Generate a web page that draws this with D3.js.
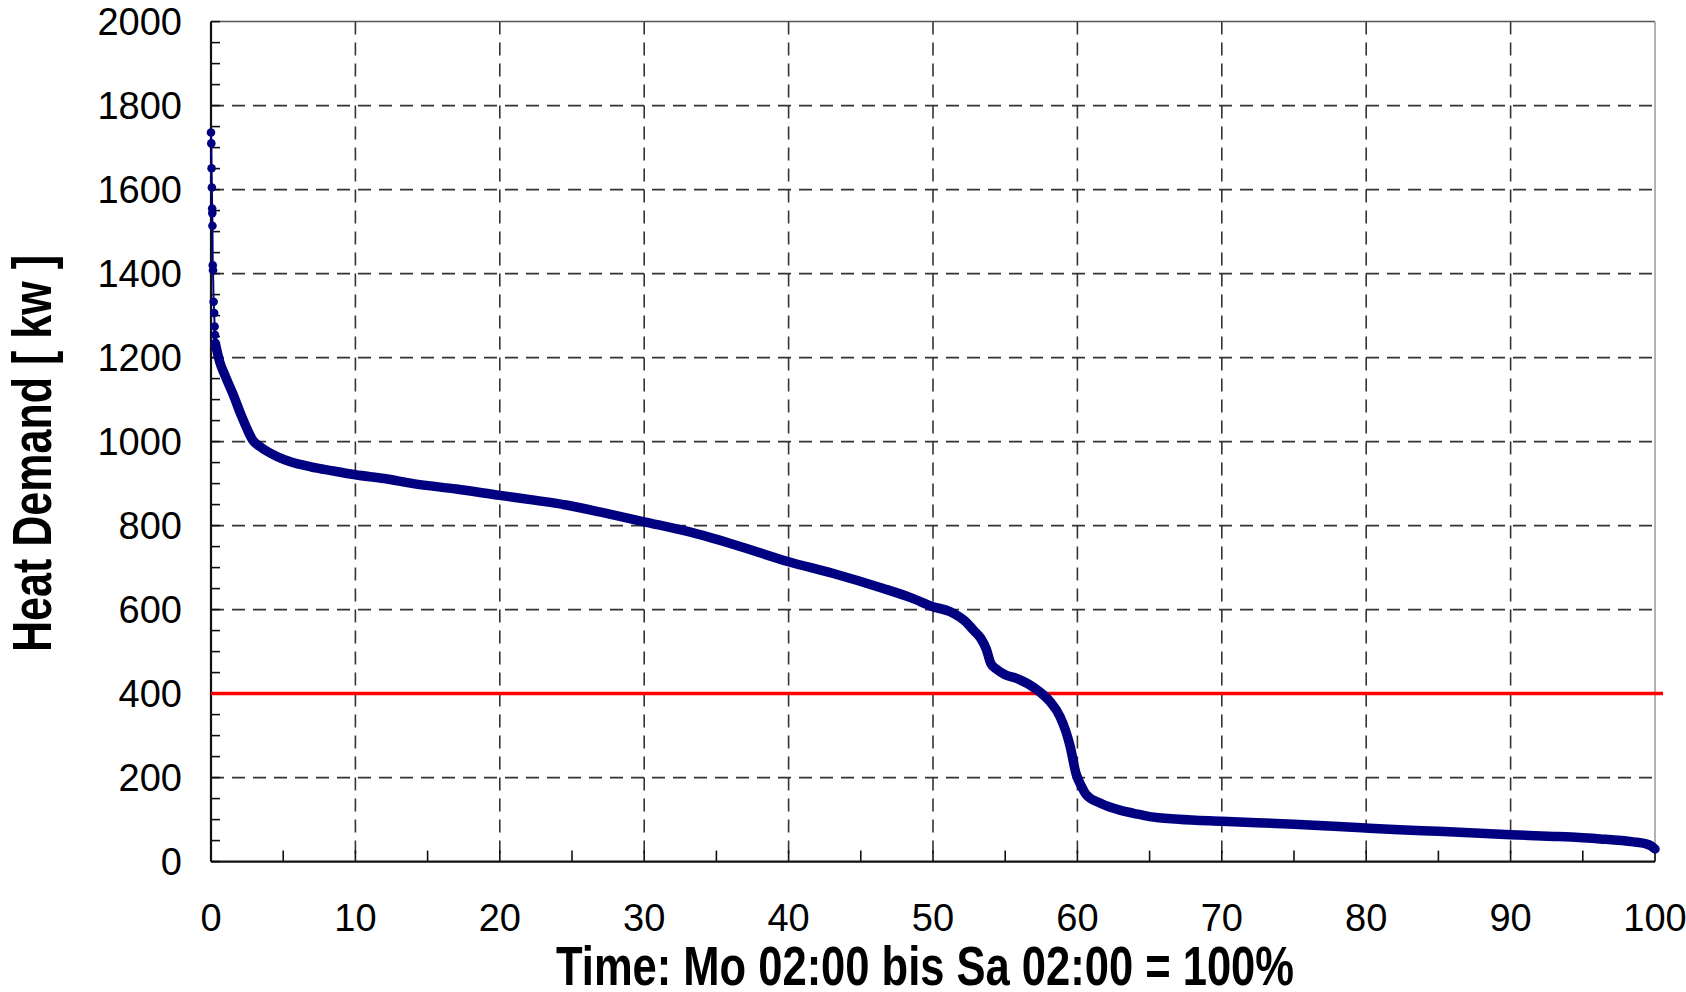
<!DOCTYPE html>
<html>
<head>
<meta charset="utf-8">
<script src="https://cdn.jsdelivr.net/npm/d3@7"></script>
<style>
  html, body { margin: 0; padding: 0; background: #fff; }
  svg { display: block; }
  text { font-family: "Liberation Sans", Arial, sans-serif; fill: #000; }
</style>
</head>
<body>
<svg id="chart" width="1686" height="992"></svg>
<script>
// ---- data ----
const xTicks = [0, 10, 20, 30, 40, 50, 60, 70, 80, 90, 100];
const yTicks = [0, 200, 400, 600, 800, 1000, 1200, 1400, 1600, 1800, 2000];
const threshold = 400;

// sparse points at the very start (peak)
const peakX = [0, 0.02, 0.04, 0.06, 0.08, 0.09, 0.10, 0.12, 0.14, 0.18, 0.22, 0.25, 0.28];
const peakY = [1736, 1710, 1651, 1605, 1555, 1544, 1514, 1420, 1408, 1333, 1306, 1274, 1254];

// dense part of the duration curve
const curveX = [0.3, 0.6, 1.0, 1.5, 2.1, 2.5, 2.9, 3.4, 4.6, 5.5, 6.9, 8.5, 10, 12, 14, 17, 20, 22.5, 24.6, 27, 30, 33, 36.2, 40, 43.1, 46.5, 48.5, 50, 51.2, 52.3, 52.8, 53.3, 53.7, 54.0, 54.4, 55, 55.8, 57.2, 58.1, 58.8, 59.2, 59.5, 59.9, 60.3, 60.6, 61.6, 63, 63.9, 65, 67, 70, 75, 80, 82.3, 85, 90, 93, 96.2, 98.5, 99.3, 99.7, 100];
const curveY = [1234, 1190, 1155, 1115, 1062, 1030, 1003, 988, 964, 952, 940, 930, 921, 912, 900, 887, 872, 860, 849, 832, 809, 786, 755, 714, 686, 651, 628, 607, 595, 570, 551, 532, 505, 472, 458, 445, 436, 409, 381, 345, 310, 274, 210, 178, 160, 139, 122, 115, 107, 101, 96, 89, 80, 76, 72, 64, 60, 54, 47, 43, 38, 30];

const xLabel = "Time: Mo 02:00 bis Sa 02:00 = 100%";
const yLabel = "Heat Demand [ kw ]";

// ---- layout ----
const W = 1686, H = 992;
const m = { left: 211, right: 31, top: 21.6, bottom: 130.4 };
const iw = W - m.left - m.right, ih = H - m.top - m.bottom;

const svg = d3.select("#chart");
const g = svg.append("g").attr("transform", `translate(${m.left},${m.top})`);

const x = d3.scaleLinear().domain([0, 100]).range([0, iw]);
const y = d3.scaleLinear().domain([0, 2000]).range([ih, 0]);

// grid
const gridColor = "#333";
g.append("g").selectAll("line")
  .data(yTicks.filter(v => v > 0 && v < 2000))
  .join("line")
  .attr("x1", 0).attr("x2", iw)
  .attr("y1", d => y(d)).attr("y2", d => y(d))
  .attr("stroke", gridColor).attr("stroke-width", 1.6)
  .attr("stroke-dasharray", "13,8");
g.append("g").selectAll("line")
  .data(xTicks.filter(v => v > 0 && v < 100))
  .join("line")
  .attr("y1", 0).attr("y2", ih)
  .attr("x1", d => x(d)).attr("x2", d => x(d))
  .attr("stroke", gridColor).attr("stroke-width", 1.6)
  .attr("stroke-dasharray", "13,8");

// frame top/right (gray)
g.append("line").attr("x1", 0).attr("x2", iw).attr("y1", 0).attr("y2", 0)
  .attr("stroke", "#555").attr("stroke-width", 1.5);
g.append("line").attr("x1", iw).attr("x2", iw).attr("y1", 0).attr("y2", ih)
  .attr("stroke", "#999").attr("stroke-width", 1.5);

// minor ticks (inward)
const yMinor = d3.range(0, 2001, 50);
g.append("g").selectAll("line").data(yMinor).join("line")
  .attr("x1", 0).attr("x2", 9)
  .attr("y1", d => y(d)).attr("y2", d => y(d))
  .attr("stroke", "#111").attr("stroke-width", 1.6);
const xMinor = d3.range(0, 101, 5);
g.append("g").selectAll("line").data(xMinor).join("line")
  .attr("y1", ih).attr("y2", ih - 11)
  .attr("x1", d => x(d)).attr("x2", d => x(d))
  .attr("stroke", "#111").attr("stroke-width", 1.6);

// axes lines
g.append("line").attr("x1", 0).attr("x2", 0).attr("y1", 0).attr("y2", ih)
  .attr("stroke", "#111").attr("stroke-width", 2.2);
g.append("line").attr("x1", 0).attr("x2", iw).attr("y1", ih).attr("y2", ih)
  .attr("stroke", "#111").attr("stroke-width", 2.2);

// tick labels
g.append("g").selectAll("text").data(yTicks).join("text")
  .attr("x", -29).attr("y", d => y(d))
  .attr("dy", "0.36em")
  .attr("text-anchor", "end")
  .attr("font-size", 38)
  .text(d => d);
g.append("g").selectAll("text").data(xTicks).join("text")
  .attr("x", d => x(d)).attr("y", ih + 69.5)
  .attr("text-anchor", "middle")
  .attr("font-size", 38)
  .text(d => d);

// threshold line
g.append("line")
  .attr("x1", x(0)).attr("x2", iw + 8)
  .attr("y1", y(threshold)).attr("y2", y(threshold))
  .attr("stroke", "#ff0000").attr("stroke-width", 3.5);

// curve
const navy = "#000080";
const peak = peakX.map((v, i) => [v, peakY[i]]);
const curve = curveX.map((v, i) => [v, curveY[i]]);
const line = d3.line().x(d => x(d[0])).y(d => y(d[1]));

g.append("path")
  .datum(peak.concat([curve[0]]))
  .attr("d", line)
  .attr("fill", "none").attr("stroke", navy).attr("stroke-width", 2);
g.append("g").selectAll("circle").data(peak).join("circle")
  .attr("cx", d => x(d[0])).attr("cy", d => y(d[1])).attr("r", 4.3)
  .attr("fill", navy);

g.append("path")
  .datum(curve)
  .attr("d", line.curve(d3.curveMonotoneX))
  .attr("fill", "none").attr("stroke", navy).attr("stroke-width", 9.5)
  .attr("stroke-linejoin", "round").attr("stroke-linecap", "round");

// axis titles
svg.append("text")
  .attr("x", 556).attr("y", 985)
  .attr("font-size", 56).attr("font-weight", "bold")
  .attr("textLength", 738).attr("lengthAdjust", "spacingAndGlyphs")
  .text(xLabel);

svg.append("text")
  .attr("transform", `translate(51,652) rotate(-90)`)
  .attr("x", 0).attr("y", 0)
  .attr("font-size", 56).attr("font-weight", "bold")
  .attr("textLength", 397).attr("lengthAdjust", "spacingAndGlyphs")
  .text(yLabel);
</script>
</body>
</html>
